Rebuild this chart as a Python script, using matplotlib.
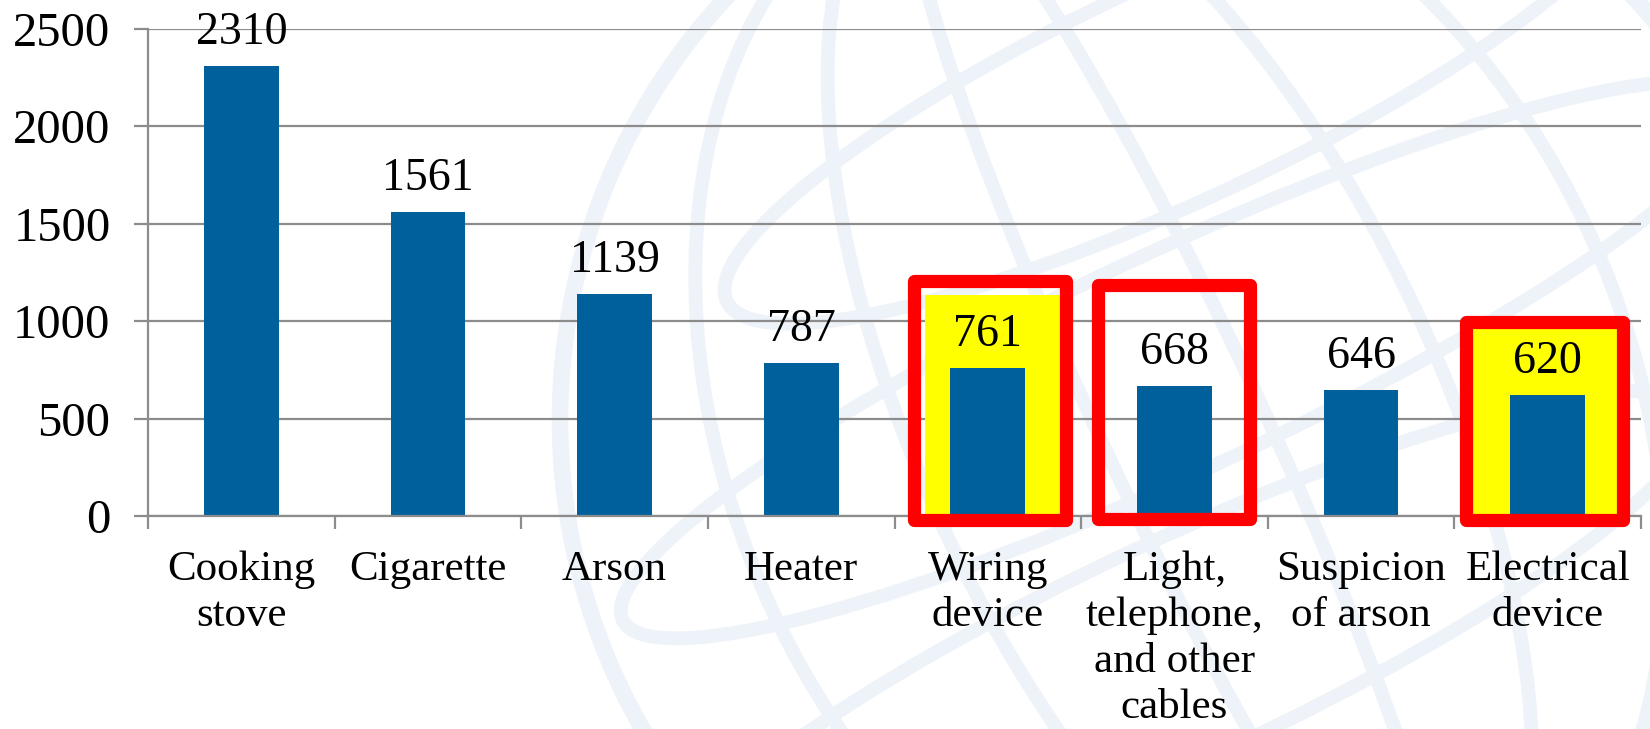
import matplotlib
matplotlib.use("Agg")
import matplotlib.pyplot as plt
from matplotlib.patches import Rectangle, Ellipse
import numpy as np

categories = ["Cooking\nstove", "Cigarette", "Arson", "Heater", "Wiring\ndevice",
              "Light,\ntelephone,\nand other\ncables", "Suspicion\nof arson", "Electrical\ndevice"]
values = [2310, 1561, 1139, 787, 761, 668, 646, 620]
yticks = [0, 500, 1000, 1500, 2000, 2500]

# highlighted categories: (index, yellow fill?)
highlights = [(4, True), (5, False), (7, True)]

plt.rcParams['font.family'] = ['Liberation Serif', 'DejaVu Serif']

W, H = 1650, 729
fig = plt.figure(figsize=(W / 100, H / 100), dpi=100)
fig.patch.set_facecolor('white')

# faint globe watermark in background
bg = fig.add_axes([0, 0, 1, 1], zorder=0)
bg.set_xlim(0, W)
bg.set_ylim(H, 0)
bg.axis('off')
wm = '#eef3f9'
cx, cy, R = 1180, 420, 620
bg.add_patch(Ellipse((cx, cy), 2 * R, 2 * R, angle=0, fill=False, ec=wm, lw=12))
for w_, ang in [(900, -25), (520, -25), (160, -25)]:
    bg.add_patch(Ellipse((cx, cy), w_, 2 * R, angle=ang, fill=False, ec=wm, lw=10))
for dy, ww in [(-330, 1000), (-60, 1230), (230, 1130)]:
    bg.add_patch(Ellipse((cx, cy + dy), ww, 220, angle=-25, fill=False, ec=wm, lw=10))

ax = fig.add_axes([148 / W, 1 - 516 / H, (1641 - 148) / W, (516 - 29) / H], zorder=1)
ax.set_facecolor('none')
x = np.arange(len(categories))

grid_c = '#8c8c8c'
ax.set_ylim(0, 2500)
ax.set_xlim(-0.5, len(categories) - 0.5)
ax.set_yticks(yticks)
ax.yaxis.grid(True, color=grid_c, lw=1.6)
ax.set_axisbelow(True)

# highlight boxes (yellow fill behind bars, red frames on top)
box_geom = {4: (-0.394, 0.421, -23, 1204, -0.338, 0.386, 1134),
            5: (-0.407, 0.407, -13, 1188, None, None, None),
            7: (-0.437, 0.405, -23, 998, -0.402, 0.37, 965)}
for idx, yellow in highlights:
    l, r, b, t, yl, yr, yt = box_geom[idx]
    if yellow:
        ax.add_patch(Rectangle((idx + yl, 0), yr - yl, yt, fc='#ffff00', ec='none', zorder=1.5))
    ax.add_patch(Rectangle((idx + l, b), r - l, t - b, fill=False, ec='#ff0000', lw=9.5,
                           joinstyle='round', zorder=4, clip_on=False))

ax.bar(x, values, width=0.4, color='#00609c', zorder=2)

for xi, v in zip(x, values):
    ax.annotate(str(v), (xi, v), xytext=(0, 24), textcoords='offset points',
                ha='center', va='center', fontsize=33, zorder=5)

for s in ['top', 'right']:
    ax.spines[s].set_visible(False)
for s in ['left', 'bottom']:
    ax.spines[s].set_color(grid_c)
    ax.spines[s].set_linewidth(1.6)

ax.set_xticks(x)
ax.set_xticklabels(categories, fontsize=31, linespacing=1.25)
ax.set_xticks(np.arange(-0.5, len(categories), 1.0), minor=True)
ax.tick_params(axis='x', which='major', length=0, pad=25)
ax.tick_params(axis='x', which='minor', length=9, width=1.6, color=grid_c, direction='out')
ax.tick_params(axis='y', length=10, width=1.6, color=grid_c, labelsize=35, pad=17)

fig.savefig('out.png', dpi=100)
